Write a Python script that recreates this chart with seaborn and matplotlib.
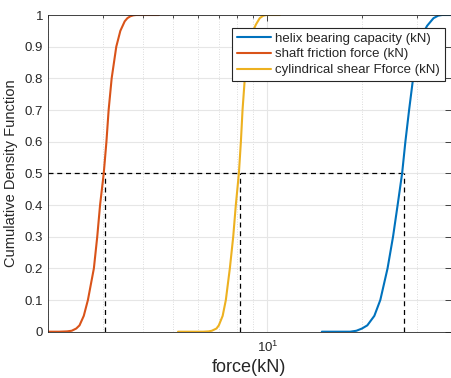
import numpy as np
import pandas as pd
import matplotlib
matplotlib.use("Agg")
import matplotlib.pyplot as plt
import seaborn as sns
from matplotlib.ticker import FixedLocator, NullFormatter, FixedFormatter

# ---- data ----
red_x = [1.9, 2.17, 2.30, 2.38, 2.46, 2.52, 2.60, 2.68, 2.80, 2.87, 2.93, 3.01, 3.07, 3.12, 3.19, 3.30, 3.40, 3.51, 3.58, 3.66, 3.74, 3.82, 4.51]
red_y = [0.0, 0.0, 0.001, 0.003, 0.01, 0.02, 0.05, 0.1, 0.2, 0.3, 0.4, 0.5, 0.6, 0.7, 0.8, 0.9, 0.95, 0.98, 0.99, 0.996, 0.999, 1.0, 1.0]

yel_x = [5.19, 6.24, 6.50, 6.65, 6.88, 7.00, 7.20, 7.37, 7.59, 7.78, 7.93, 8.11, 8.23, 8.33, 8.47, 8.80, 9.00, 9.19, 9.45, 9.70, 9.94, 10.96]
yel_y = [0.0, 0.0, 0.001, 0.003, 0.01, 0.02, 0.05, 0.1, 0.2, 0.3, 0.4, 0.5, 0.6, 0.7, 0.8, 0.9, 0.95, 0.97, 0.99, 0.998, 1.0, 1.0]

blu_x = [14.9, 18.35, 19.2, 20.0, 20.8, 21.9, 22.88, 24.13, 25.12, 25.98, 26.85, 27.5, 28.26, 29.1, 30.26, 31.6, 32.26, 33.8, 35.0, 36.0, 40.0]
blu_y = [0.0, 0.0, 0.003, 0.01, 0.02, 0.05, 0.1, 0.2, 0.3, 0.4, 0.5, 0.6, 0.7, 0.8, 0.9, 0.95, 0.966, 0.99, 0.998, 1.0, 1.0]

series_names = ["helix bearing capacity (kN)", "shaft friction force (kN)", "cylindrical shear Fforce (kN)"]
medians = [27.2, 3.03, 8.17]   # helix, shaft, cylindrical
ytick_vals = [0, 0.1, 0.2, 0.3, 0.4, 0.5, 0.6, 0.7, 0.8, 0.9, 1]
ytick_labels = ["0", "0.1", "0.2", "0.3", "0.4", "0.5", "0.6", "0.7", "0.8", "0.9", "1"]

colors = ["#0072BD", "#D95319", "#EDB120"]

df = pd.concat([
    pd.DataFrame({"x": blu_x, "y": blu_y, "s": series_names[0]}),
    pd.DataFrame({"x": red_x, "y": red_y, "s": series_names[1]}),
    pd.DataFrame({"x": yel_x, "y": yel_y, "s": series_names[2]}),
], ignore_index=True)

sns.set_style("white")
plt.rcParams["font.family"] = ["Liberation Sans", "DejaVu Sans"]
plt.rcParams["mathtext.fontset"] = "custom"
plt.rcParams["mathtext.rm"] = "Liberation Sans"
plt.rcParams["mathtext.it"] = "Liberation Sans"

fig = plt.figure(figsize=(4.51, 3.78), dpi=100)
ax = fig.add_axes([48 / 451, 1 - 331.7 / 378, 1 - 48 / 451 - 0.001, (331.7 - 15) / 378])

sns.lineplot(data=df, x="x", y="y", hue="s", hue_order=series_names,
             palette=colors, linewidth=1.5, sort=False, estimator=None, ax=ax)

ax.set_xscale("log")
ax.set_xlim(2.0, 38.3)
ax.set_ylim(0, 1)

# dashed median guides
ax.plot([2.0, medians[0]], [0.5, 0.5], color="black", lw=0.9, ls=(0, (4, 3)), zorder=1.5)
for m in medians:
    ax.plot([m, m], [0, 0.5], color="black", lw=0.9, ls=(0, (4, 3)), zorder=1.5)

# ticks
ax.xaxis.set_major_locator(FixedLocator([10]))
ax.xaxis.set_major_formatter(FixedFormatter([r"$10^{1}$"]))
minor = [2, 3, 4, 5, 6, 7, 8, 9, 20, 30]
ax.xaxis.set_minor_locator(FixedLocator(minor))
ax.xaxis.set_minor_formatter(NullFormatter())
ax.yaxis.set_major_locator(FixedLocator(ytick_vals))
ax.yaxis.set_major_formatter(FixedFormatter(ytick_labels))

ax.tick_params(axis="both", which="both", direction="in", top=True, right=True,
               colors="#262626", labelcolor="#262626", labelsize=9.5)
ax.tick_params(axis="both", which="major", length=4, width=0.6)
ax.tick_params(axis="x", which="major", pad=6)
ax.tick_params(axis="both", which="minor", length=2.5, width=0.6)
ax.tick_params(axis="y", which="minor", left=False, right=False)

ax.grid(True, which="major", color="#e6e6e6", lw=0.8)
ax.grid(True, which="minor", axis="x", color="#d0d0d0", lw=0.6, ls=(0, (1, 2)))
ax.set_axisbelow(True)
for sp in ax.spines.values():
    sp.set_color("#262626")
    sp.set_linewidth(0.6)

ax.set_xlabel("force(kN)", fontsize=13, color="#262626", labelpad=3)
ax.set_ylabel("Cumulative Density Function", fontsize=10.5, color="#262626", labelpad=5)

leg = ax.legend(loc="upper right", bbox_to_anchor=(0.985, 0.96), fontsize=9.5,
                frameon=True, fancybox=False, framealpha=1, edgecolor="#262626",
                handlelength=2.6, handletextpad=0.3, borderpad=0.35, labelspacing=0.28,
                borderaxespad=0)
leg.get_frame().set_linewidth(0.8)
leg.set_title(None)

fig.savefig("out.png", dpi=100)
